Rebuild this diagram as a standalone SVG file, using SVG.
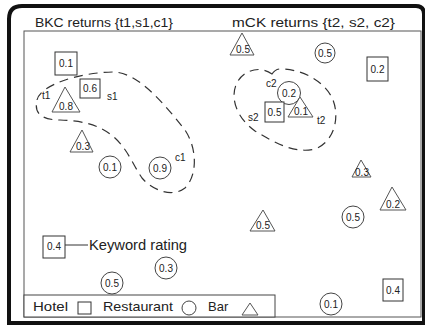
<svg xmlns="http://www.w3.org/2000/svg" width="425" height="327" viewBox="0 0 425 327">
<style>
text{font-family:"Liberation Sans",Arial,sans-serif;fill:#222}
.v{font-size:10px;text-anchor:middle}
.lb{font-size:10px}
.ti{font-size:13px}
.sq{fill:#fff;stroke:#333;stroke-width:1}
.ci{fill:#fff;stroke:#444;stroke-width:1}
.tr{fill:#fff;stroke:#555;stroke-width:1}
.ds{fill:none;stroke:#333;stroke-width:1.2;stroke-dasharray:9,6}
</style>
<rect x="0" y="0" width="425" height="327" fill="#fff"/>
<path d="M9,323 L9,19 Q9,6 22,6 L416,6 Q424,6 424,14 L424,323 Z" fill="none" stroke="#111" stroke-width="4"/>
<rect x="24" y="31" width="397" height="286" fill="#fff" stroke="#555" stroke-width="1"/>
<text class="ti" x="35" y="27" textLength="138" lengthAdjust="spacingAndGlyphs">BKC returns {t1,s1,c1}</text>
<text class="ti" x="232" y="27" textLength="163" lengthAdjust="spacingAndGlyphs">mCK returns {t2, s2, c2}</text>
<g id="connectors">
<path class="ds" d="M37,100 C40,85 80,72 115,72 C140,74 165,105 185,130 C197,148 198,175 185,188 C172,198 152,190 142,178 C133,165 128,150 115,138 C100,125 85,121 60,120 C40,120 34,112 37,100 Z"/>
<path class="ds" d="M272,74 Q276,68 283,69 C305,70 326,83 333,100 C340,118 334,142 315,149 C295,154 275,143 255,131 C238,119 230,100 236,85 C241,72 258,64 272,74 Z"/>
<line x1="65" y1="245" x2="88" y2="245" stroke="#333" stroke-width="1"/>
</g>
<g id="n-sq01"><rect class="sq" x="55" y="52" width="22" height="23"/><text class="v" x="66" y="67">0.1</text></g>
<g id="n-t1"><polygon class="tr" points="65,87 52,112 80,112"/><text class="v" x="66" y="110">0.8</text><text class="lb" x="42" y="99">t1</text></g>
<g id="n-s1"><rect class="sq" x="80" y="79" width="20" height="19"/><text class="v" x="90" y="92">0.6</text><text class="lb" x="107" y="100">s1</text></g>
<g id="n-tr03"><polygon class="tr" points="82,130 70,152 93,152"/><text class="v" x="83" y="150">0.3</text></g>
<g id="n-ci01"><circle class="ci" cx="110" cy="167" r="11"/><text class="v" x="110" y="171">0.1</text></g>
<g id="n-c1"><circle class="ci" cx="160" cy="168" r="11"/><text class="v" x="160" y="172">0.9</text><text class="lb" x="175" y="161">c1</text></g>
<g id="n-tr05a"><polygon class="tr" points="242,33 230,55 254,55"/><text class="v" x="243" y="53">0.5</text></g>
<g id="n-ci05a"><circle class="ci" cx="325" cy="53" r="10"/><text class="v" x="325" y="57">0.5</text></g>
<g id="n-sq02"><rect class="sq" x="367" y="57" width="21" height="24"/><text class="v" x="377.5" y="73">0.2</text></g>
<g id="n-c2"><circle class="ci" cx="289" cy="93" r="11.5"/><text class="v" x="289" y="97">0.2</text><text class="lb" x="266" y="87">c2</text></g>
<g id="n-s2"><rect class="sq" x="265" y="102" width="19" height="20"/><text class="v" x="274.5" y="116">0.5</text><text class="lb" x="248" y="121">s2</text></g>
<g id="n-t2"><polygon class="tr" points="300,97 288,117 313,117"/><text class="v" x="301" y="115">0.1</text><text class="lb" x="317" y="124">t2</text></g>
<g id="n-tr03b"><polygon class="tr" points="361,160 352,177 371,177"/><text class="v" x="362" y="176">0.3</text></g>
<g id="n-tr02"><polygon class="tr" points="392,187 380,210 406,210"/><text class="v" x="393" y="208">0.2</text></g>
<g id="n-ci05b"><circle class="ci" cx="353" cy="217" r="11"/><text class="v" x="353" y="221">0.5</text></g>
<g id="n-tr05b"><polygon class="tr" points="263,210 250,231 275,231"/><text class="v" x="263" y="229">0.5</text></g>
<g id="n-key"><rect class="sq" x="43" y="236" width="22" height="22"/><text class="v" x="54" y="250">0.4</text><text x="89" y="250" font-size="14" textLength="98" lengthAdjust="spacingAndGlyphs">Keyword rating</text></g>
<g id="n-ci03"><circle class="ci" cx="166" cy="268" r="11"/><text class="v" x="166" y="272">0.3</text></g>
<g id="n-ci05c"><circle class="ci" cx="112" cy="283" r="11"/><text class="v" x="112" y="287">0.5</text></g>
<g id="n-sq04"><rect class="sq" x="383" y="279" width="20" height="22"/><text class="v" x="393" y="294">0.4</text></g>
<g id="n-ci01b"><circle class="ci" cx="331" cy="304" r="11"/><text class="v" x="331" y="308">0.1</text></g>
<g id="legend">
<rect x="24" y="295" width="251" height="22" fill="#fff" stroke="#444" stroke-width="1"/>
<text x="33" y="311" font-size="13" textLength="35" lengthAdjust="spacingAndGlyphs">Hotel</text>
<rect class="sq" x="78" y="302" width="13" height="12"/>
<text x="103" y="311" font-size="13" textLength="70" lengthAdjust="spacingAndGlyphs">Restaurant</text>
<circle class="ci" cx="189" cy="308" r="7"/>
<text x="208" y="311" font-size="13">Bar</text>
<polygon class="tr" points="250,303 242,315 258,315"/>
</g>
</svg>
